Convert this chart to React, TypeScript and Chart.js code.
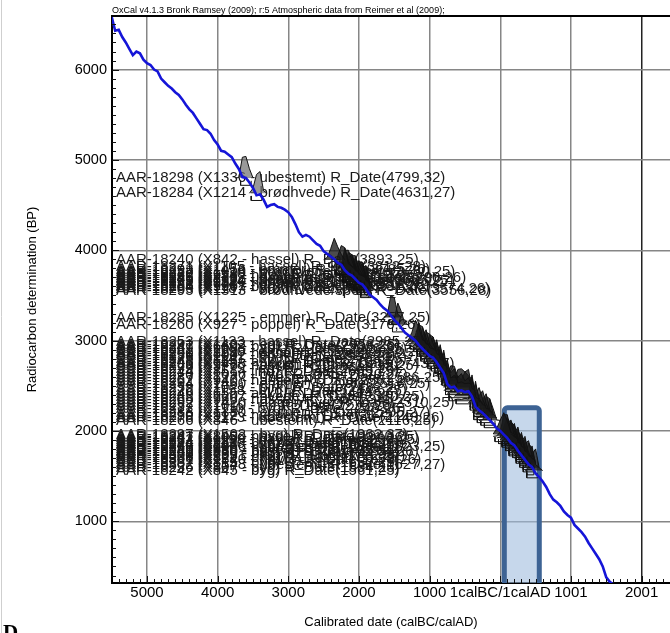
import React, { useEffect, useRef } from "react";
import { Chart, registerables } from "chart.js";

Chart.register(...registerables);

const TITLE = "OxCal v4.1.3 Bronk Ramsey (2009); r:5 Atmospheric data from Reimer et al (2009);";
const X_TITLE = "Calibrated date (calBC/calAD)";
const Y_TITLE = "Radiocarbon determination (BP)";
const PANEL_LETTER = "D";

// x value: calendar year, BC negative, 1calBC/1calAD boundary at 0
const X_TICKS = [-5000, -4000, -3000, -2000, -1000, 0, 1000, 2000];
const X_TICK_LABELS = ["5000", "4000", "3000", "2000", "1000", "1calBC/1calAD", "1001", "2001"];
const Y_TICKS = [1000, 2000, 3000, 4000, 5000, 6000];
const X_MIN = -5495;
const X_MAX = 2402;
const Y_MIN = 317;
const Y_MAX = 6593;

// calibration curve (IntCal09)
const CURVE_YEARS = [
  -5500, -5450, -5400, -5350, -5300, -5250, -5200, -5150, -5100, -5050,
  -5000, -4950, -4900, -4850, -4800, -4750, -4700, -4650, -4600, -4550,
  -4500, -4450, -4400, -4350, -4300, -4250, -4200, -4150, -4100, -4050,
  -4000, -3950, -3900, -3850, -3800, -3750, -3700, -3650, -3600, -3550,
  -3500, -3450, -3400, -3350, -3300, -3250, -3200, -3150, -3100, -3050,
  -3000, -2950, -2900, -2850, -2800, -2750, -2700, -2650, -2600, -2550,
  -2500, -2450, -2400, -2350, -2300, -2250, -2200, -2150, -2100, -2050,
  -2000, -1950, -1900, -1850, -1800, -1750, -1700, -1650, -1600, -1550,
  -1500, -1450, -1400, -1350, -1300, -1250, -1200, -1150, -1100, -1050,
  -1000, -950, -900, -850, -800, -750, -700, -650, -600, -550,
  -500, -450, -400, -350, -300, -250, -200, -150, -100, -50,
  0, 50, 100, 150, 200, 250, 300, 350, 400, 450,
  500, 550, 600, 650, 700, 750, 800, 850, 900, 950,
  1000, 1050, 1100, 1150, 1200, 1250, 1300, 1350, 1400, 1450,
  1500, 1550, 1600,
];
const CURVE_BP = [
  6585, 6430, 6440, 6360, 6300, 6230, 6160, 6200, 6180, 6110,
  6070, 6050, 6000, 5980, 5900, 5860, 5820, 5790, 5750, 5720,
  5670, 5610, 5560, 5520, 5460, 5400, 5340, 5330, 5290, 5220,
  5170, 5100, 5090, 5060, 5030, 4960, 4900, 4810, 4800, 4750,
  4690, 4610, 4620, 4560, 4480, 4500, 4510, 4480, 4470, 4450,
  4420, 4370, 4290, 4200, 4150, 4170, 4150, 4110, 4070, 4050,
  3990, 3960, 3930, 3900, 3860, 3840, 3780, 3740, 3720, 3680,
  3640, 3620, 3570, 3510, 3480, 3450, 3400, 3360, 3330, 3280,
  3230, 3190, 3140, 3090, 3060, 3030, 3000, 2950, 2910, 2870,
  2830, 2810, 2760, 2700, 2640, 2520, 2480, 2490, 2440, 2450,
  2430, 2440, 2380, 2270, 2230, 2200, 2160, 2120, 2080, 2030,
  2000, 1960, 1920, 1870, 1840, 1780, 1730, 1680, 1630, 1600,
  1530, 1490, 1440, 1380, 1300, 1240, 1210, 1170, 1110, 1070,
  1040, 960, 920, 880, 830, 760, 700, 640, 580, 500,
  380, 330, 300,
];
const CURVE_SIGMA = 20;

const SAMPLE_LABELS = [
  "AAR-18298 (X1336 - ubestemt) R_Date(4799,32)",
  "AAR-18284 (X1214 - brødhvede) R_Date(4631,27)",
  "AAR-18240 (X842 - hassel) R_Date(3893,25)",
  "AAR-18271 (X1105 - hassel) R_Date(3812,28)",
  "AAR-18293 (X1456 - emmer) R_Date(3785,26)",
  "AAR-18258 (X1018 - brødhvede) R_Date(3760,25)",
  "AAR-18277 (X1170 - byg) R_Date(3736,27)",
  "AAR-18262 (X958 - hassel) R_Date(3718,25)",
  "AAR-18289 (X1392 - emmer/spelt) R_Date(3700,26)",
  "AAR-18245 (X878 - ubestemt) R_Date(3683,28)",
  "AAR-18273 (X1124 - nøgen byg) R_Date(3665,25)",
  "AAR-18299 (X1520 - brødhvede) R_Date(3646,27)",
  "AAR-18251 (X931 - hassel) R_Date(3628,25)",
  "AAR-18286 (X1261 - emmer) R_Date(3611,26)",
  "AAR-18264 (X990 - byg) R_Date(3592,28)",
  "AAR-18280 (X1187 - brødhvede/spelt) R_Date(3574,26)",
  "AAR-18295 (X1313 - brødhvede/spelt) R_Date(3556,28)",
  "AAR-18285 (X1225 - emmer) R_Date(3257,25)",
  "AAR-18260 (X927 - poppel) R_Date(3176,26)",
  "AAR-18253 (X1133 - hassel) R_Date(2985,27)",
  "AAR-18291 (X1402 - eg) R_Date(2958,25)",
  "AAR-18247 (X660 - byg) R_Date(2932,26)",
  "AAR-18269 (X1088 - ask) R_Date(2906,25)",
  "AAR-18281 (X1190 - emmer) R_Date(2880,27)",
  "AAR-18290 (X894 - hassel) R_Date(2852,25)",
  "AAR-18256 (X1002 - el) R_Date(2826,26)",
  "AAR-18275 (X1141 - byg) R_Date(2798,25)",
  "AAR-18248 (X665 - ask) R_Date(2770,25)",
  "AAR-18296 (X1488 - nøgen byg) R_Date(2743,27)",
  "AAR-18263 (X975 - hassel) R_Date(2715,25)",
  "AAR-18279 (X1179 - eg) R_Date(2688,26)",
  "AAR-18244 (X851 - lind) R_Date(2655,25)",
  "AAR-18270 (X1096 - byg) R_Date(2620,27)",
  "AAR-18287 (X1277 - ubestemt) R_Date(2586,25)",
  "AAR-18252 (X940 - hassel) R_Date(2551,26)",
  "AAR-18294 (X1460 - emmer) R_Date(2516,25)",
  "AAR-18259 (X1021 - birk) R_Date(2482,27)",
  "AAR-18276 (X1158 - byg) R_Date(2448,25)",
  "AAR-18246 (X655 - ask) R_Date(2414,26)",
  "AAR-18283 (X1207 - hvede) R_Date(2380,25)",
  "AAR-18265 (X996 - hassel) R_Date(2345,27)",
  "AAR-18292 (X1420 - nøgen byg) R_Date(2310,25)",
  "AAR-18257 (X1010 - el) R_Date(2276,26)",
  "AAR-18272 (X1110 - byg) R_Date(2240,25)",
  "AAR-18288 (X1380 - emmer) R_Date(2205,27)",
  "AAR-18250 (X912 - hassel) R_Date(2172,25)",
  "AAR-18278 (X1173 - ubestemt) R_Date(2143,26)",
  "AAR-18266 (X846 - ubestemt) R_Date(2116,25)",
  "AAR-18297 (X1502 - byg) R_Date(1962,37)",
  "AAR-18241 (X843 - hassel) R_Date(1940,25)",
  "AAR-18267 (X1050 - byg) R_Date(1921,26)",
  "AAR-18282 (X1199 - havre) R_Date(1900,25)",
  "AAR-18254 (X982 - byg) R_Date(1882,27)",
  "AAR-18274 (X1130 - rug) R_Date(1862,25)",
  "AAR-18243 (X848 - byg) R_Date(1843,26)",
  "AAR-18268 (X1066 - ubestemt) R_Date(1823,25)",
  "AAR-18255 (X995 - havre) R_Date(1804,27)",
  "AAR-18249 (X880 - byg) R_Date(1785,25)",
  "AAR-18261 (X950 - hassel) R_Date(1764,26)",
  "AAR-18239 (X830 - byg) R_Date(1744,25)",
  "AAR-18300 (X1531 - rug) R_Date(1722,27)",
  "AAR-18238 (X822 - byg) R_Date(1700,25)",
  "AAR-18301 (X1540 - havre) R_Date(1678,26)",
  "AAR-18237 (X815 - byg) R_Date(1652,25)",
  "AAR-18302 (X1548 - ubestemt) R_Date(1627,27)",
  "AAR-18236 (X807 - byg) R_Date(1594,25)",
  "AAR-18242 (X845 - byg) R_Date(1561,25)",
];
const SAMPLE_BP = [
  4799, 4631,
  3893, 3812, 3785, 3760, 3736, 3718, 3700, 3683, 3665, 3646, 3628, 3611, 3592, 3574, 3556,
  3257, 3176,
  2985, 2958, 2932, 2906, 2880, 2852, 2826, 2798, 2770, 2743, 2715, 2688, 2655, 2620, 2586,
  2551, 2516, 2482, 2448, 2414, 2380, 2345, 2310, 2276, 2240, 2205, 2172, 2143, 2116,
  1962, 1940, 1921, 1900, 1882, 1862, 1843, 1823, 1804, 1785, 1764, 1744, 1722, 1700, 1678,
  1652, 1627, 1594, 1561,
];
const SAMPLE_ERR = [
  32, 27,
  25, 28, 26, 25, 27, 25, 26, 28, 25, 27, 25, 26, 28, 26, 28,
  25, 26,
  27, 25, 26, 25, 27, 25, 26, 25, 25, 27, 25, 26, 25, 27, 25,
  26, 25, 27, 25, 26, 25, 27, 25, 26, 25, 27, 25, 26, 25,
  37, 25, 26, 25, 27, 25, 26, 25, 27, 25, 26, 25, 27, 25, 26,
  25, 27, 25, 25,
];

// highlighted period box (calendar years, BP)
const HIGHLIGHT_YEARS = [57, 552];
const HIGHLIGHT_BP = [2256, 150];

const FONT = '"Liberation Sans", Arial, sans-serif';

function calibrate(bp: number, err: number) {
  const s2 = err * err + CURVE_SIGMA * CURVE_SIGMA;
  const p = CURVE_BP.map((c) => Math.exp(-((c - bp) * (c - bp)) / (2 * s2)));
  const pmax = Math.max(...p);
  const rel = p.map((v) => v / pmax);
  const first = rel.findIndex((v) => v > 0.02);
  const last = rel.length - 1 - [...rel].reverse().findIndex((v) => v > 0.02);
  const i0 = Math.max(0, first - 1);
  const i1 = Math.min(rel.length - 1, last + 1);
  const H = 240;
  const poly: { x: number; y: number }[] = [];
  for (let i = i0; i <= i1; i++) poly.push({ x: CURVE_YEARS[i], y: bp + H * rel[i] });
  const r0 = rel.findIndex((v) => v > 0.14);
  const r1 = rel.length - 1 - [...rel].reverse().findIndex((v) => v > 0.14);
  const xa = CURVE_YEARS[r0] - 25;
  const xb = CURVE_YEARS[r1] + 25;
  const bracket = [
    { x: xa, y: bp - 30 },
    { x: xa, y: bp - 80 },
    { x: xb, y: bp - 80 },
    { x: xb, y: bp - 30 },
  ];
  return { poly, bracket };
}

const decorPlugin = {
  id: "oxcalDecor",
  beforeDatasetsDraw(chart: any) {
    const { ctx, chartArea, scales } = chart;
    const { x, y } = scales;
    ctx.save();
    ctx.beginPath();
    ctx.rect(chartArea.left, chartArea.top, chartArea.right - chartArea.left, chartArea.bottom - chartArea.top);
    ctx.clip();
    const bx0 = x.getPixelForValue(HIGHLIGHT_YEARS[0]);
    const bx1 = x.getPixelForValue(HIGHLIGHT_YEARS[1]);
    const by0 = y.getPixelForValue(HIGHLIGHT_BP[0]);
    const by1 = y.getPixelForValue(HIGHLIGHT_BP[1]);
    ctx.beginPath();
    if (ctx.roundRect) ctx.roundRect(bx0, by0, bx1 - bx0, by1 - by0, 3);
    else ctx.rect(bx0, by0, bx1 - bx0, by1 - by0);
    ctx.fillStyle = "rgba(160,188,222,0.6)";
    ctx.fill();
    ctx.lineWidth = 5;
    ctx.strokeStyle = "#3d6394";
    ctx.stroke();

    ctx.font = "15px " + FONT;
    ctx.fillStyle = "#1a1a1a";
    ctx.textBaseline = "middle";
    ctx.textAlign = "left";
    SAMPLE_LABELS.forEach((t, i) => {
      ctx.fillText(t, chartArea.left + 4, y.getPixelForValue(SAMPLE_BP[i]));
    });
    ctx.restore();
  },
  afterDraw(chart: any) {
    const { ctx, chartArea, scales } = chart;
    const { x, y } = scales;
    const { left, right, top, bottom } = chartArea;
    ctx.save();
    ctx.strokeStyle = "#cfcfcf";
    ctx.lineWidth = 1;
    ctx.beginPath();
    ctx.moveTo(1.5, 0);
    ctx.lineTo(1.5, 633);
    ctx.stroke();
    ctx.strokeStyle = "#000";
    ctx.lineWidth = 2;
    ctx.beginPath();
    ctx.moveTo(left - 1, top);
    ctx.lineTo(right, top);
    ctx.stroke();
    ctx.lineWidth = 1;
    ctx.strokeStyle = "#111";
    ctx.beginPath();
    for (let v = -5400; v <= 2400; v += 100) {
      const px = Math.round(x.getPixelForValue(v)) + 0.5;
      if (px < left + 1 || px > right) continue;
      const len = v % 1000 === 0 ? 7 : 4;
      ctx.moveTo(px, bottom);
      ctx.lineTo(px, bottom - len);
    }
    for (let b = 400; b <= 6500; b += 100) {
      const py = Math.round(y.getPixelForValue(b)) + 0.5;
      if (py < top + 1 || py > bottom - 1) continue;
      const len = b % 1000 === 0 ? 7 : 4;
      ctx.moveTo(left, py);
      ctx.lineTo(left + len, py);
    }
    ctx.stroke();
    ctx.fillStyle = "#000";
    ctx.font = "9px " + FONT;
    ctx.textBaseline = "alphabetic";
    ctx.textAlign = "left";
    ctx.fillText(TITLE, left, top - 3);
    ctx.font = 'bold 21px "Liberation Serif", "Times New Roman", serif';
    ctx.fillText(PANEL_LETTER, 3, 639);
    ctx.restore();
  },
};

export default function App() {
  const ref = useRef<HTMLCanvasElement | null>(null);
  useEffect(() => {
    if (!ref.current) return;
    const datasets: any[] = [];
    datasets.push({
      label: "IntCal09",
      data: CURVE_YEARS.map((yr, i) => ({ x: yr, y: CURVE_BP[i] })),
      borderColor: "#1515d8",
      borderWidth: 2.6,
      pointRadius: 0,
      fill: false,
      order: 0,
    });
    SAMPLE_BP.forEach((bp, i) => {
      const { poly, bracket } = calibrate(bp, SAMPLE_ERR[i]);
      datasets.push({
        label: SAMPLE_LABELS[i],
        data: poly,
        borderColor: "#111",
        borderWidth: 1,
        backgroundColor: i < 2 ? "rgba(110,110,110,0.7)" : "rgba(25,25,25,0.78)",
        pointRadius: 0,
        fill: { value: bp },
        order: 1,
      });
      datasets.push({
        label: SAMPLE_LABELS[i] + " range",
        data: bracket,
        borderColor: "#111",
        borderWidth: 1,
        pointRadius: 0,
        fill: false,
        order: 1,
      });
    });
    const chart = new Chart(ref.current, {
      type: "line",
      data: { datasets },
      options: {
        responsive: false,
        animation: false,
        devicePixelRatio: 1,
        events: [],
        parsing: false as any,
        normalized: true,
        layout: { padding: { top: 16, left: 0, right: 0, bottom: 0 } },
        plugins: { legend: { display: false }, tooltip: { enabled: false } },
        scales: {
          x: {
            type: "linear",
            min: X_MIN,
            max: X_MAX,
            afterBuildTicks: (s: any) => {
              s.ticks = X_TICKS.map((v) => ({ value: v }));
            },
            afterFit: (s: any) => {
              s.height = 50;
            },
            ticks: {
              autoSkip: false,
              maxRotation: 0,
              minRotation: 0,
              padding: 1,
              color: "#000",
              font: { family: FONT, size: 15 },
              callback: (v: any) => {
                const k = X_TICKS.indexOf(Number(v));
                return k >= 0 ? X_TICK_LABELS[k] : "";
              },
            },
            grid: {
              drawTicks: false,
              lineWidth: 1.5,
              color: (c: any) => (c.tick && c.tick.value === 2000 ? "#222" : "#868686"),
            },
            border: { display: true, color: "#000", width: 2 },
            title: {
              display: true,
              text: X_TITLE,
              color: "#000",
              font: { family: FONT, size: 13 },
              padding: { top: 0, bottom: 3 },
            },
          },
          y: {
            type: "linear",
            min: Y_MIN,
            max: Y_MAX,
            afterBuildTicks: (s: any) => {
              s.ticks = Y_TICKS.map((v) => ({ value: v }));
            },
            afterFit: (s: any) => {
              s.width = 112;
            },
            ticks: {
              padding: 5,
              color: "#000",
              font: { family: FONT, size: 14.5 },
              callback: (v: any) => String(v),
            },
            grid: { drawTicks: false, lineWidth: 1.5, color: "#868686" },
            border: { display: true, color: "#000", width: 2 },
            title: {
              display: true,
              text: Y_TITLE,
              color: "#000",
              font: { family: FONT, size: 13 },
              padding: { top: 25, bottom: 0 },
            },
          },
        },
      },
      plugins: [decorPlugin],
    } as any);
    return () => chart.destroy();
  }, []);
  return (
    <div style={{ position: "fixed", left: 0, top: 0, width: 670, height: 633, background: "#fff", overflow: "hidden" }}>
      <canvas ref={ref} width={670} height={633} style={{ display: "block" }} />
    </div>
  );
}
